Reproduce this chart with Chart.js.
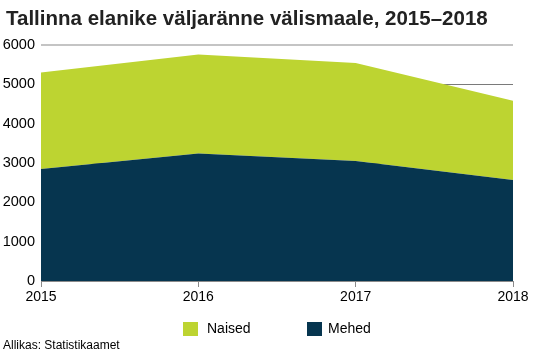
<!DOCTYPE html>
<html>
<head>
<meta charset="utf-8">
<script src="https://cdn.jsdelivr.net/npm/chart.js@4/dist/chart.umd.min.js"></script>
<style>
  html, body { margin: 0; padding: 0; background: #fff; }
  #wrap { width: 533px; height: 354px; }
</style>
</head>
<body>
<div id="wrap"><canvas id="chart" width="533" height="354"></canvas></div>
<script>
// Years and persons emigrating from Tallinn
const years = ['2015', '2016', '2017', '2018'];
const mehed = [2850, 3240, 3050, 2570];
const naised = [2450, 2520, 2490, 2010];
const yTicks = [0, 1000, 2000, 3000, 4000, 5000, 6000];

const titleText = 'Tallinna elanike väljaränne välismaale, 2015–2018';
const sourceText = 'Allikas: Statistikaamet';
const font = 'Arial, "Liberation Sans", sans-serif';

// Title, legend (Naised first) and source line, drawn by hand
const extrasPlugin = {
  id: 'extras',
  afterDraw(chart) {
    const ctx = chart.ctx;
    const sets = chart.data.datasets;
    ctx.save();
    ctx.font = 'bold 20.5px ' + font;
    ctx.fillStyle = '#222';
    ctx.textBaseline = 'alphabetic';
    ctx.fillText(titleText, 6, 25);

    const items = [
      { ds: sets[1], box: 183, text: 207 },
      { ds: sets[0], box: 307, text: 328 }
    ];
    ctx.font = '14px ' + font;
    ctx.textBaseline = 'middle';
    items.forEach(it => {
      ctx.fillStyle = it.ds.backgroundColor;
      ctx.fillRect(it.box, 322, 15, 14);
      ctx.fillStyle = '#000';
      ctx.fillText(it.ds.label, it.text, 329);
    });
    ctx.font = '12px ' + font;
    ctx.textBaseline = 'alphabetic';
    ctx.fillText(sourceText, 3, 349);
    ctx.restore();
  }
};

new Chart(document.getElementById('chart'), {
  type: 'line',
  data: {
    labels: years,
    datasets: [{
      label: 'Mehed',
      data: mehed,
      backgroundColor: '#06354f',
      borderColor: '#06354f',
      borderWidth: 0,
      pointRadius: 0,
      fill: 'origin'
    }, {
      label: 'Naised',
      data: naised,
      backgroundColor: '#bdd431',
      borderColor: '#bdd431',
      borderWidth: 0,
      pointRadius: 0,
      fill: '-1'
    }]
  },
  options: {
    responsive: false,
    animation: false,
    layout: { padding: { left: 0, right: 20, top: 45, bottom: 43 } },
    plugins: {
      title: { display: false },
      legend: { display: false },
      tooltip: { enabled: false }
    },
    scales: {
      x: {
        offset: false,
        afterFit(scale) { scale.height = 30; },
        grid: { drawOnChartArea: false, tickLength: 6, tickColor: '#8a8a8a' },
        border: { color: '#8a8a8a' },
        ticks: { color: '#000', font: { family: font, size: 14 }, padding: 2, maxRotation: 0 }
      },
      y: {
        stacked: true,
        min: 0,
        max: 6000,
        afterBuildTicks(scale) { scale.ticks = yTicks.map(v => ({ value: v })); },
        afterFit(scale) { scale.width = 41; },
        grid: {
          color: ctx => ctx.tick && ctx.tick.value === 6000 ? '#c4c4c4' : '#7a7a7a',
          lineWidth: ctx => ctx.tick && ctx.tick.value === 6000 ? 2 : 1,
          drawTicks: false
        },
        border: { display: false },
        ticks: {
          color: '#000',
          font: { family: font, size: 14.5 },
          padding: 6,
          callback: v => String(v)
        }
      }
    }
  },
  plugins: [extrasPlugin]
});
</script>
</body>
</html>
